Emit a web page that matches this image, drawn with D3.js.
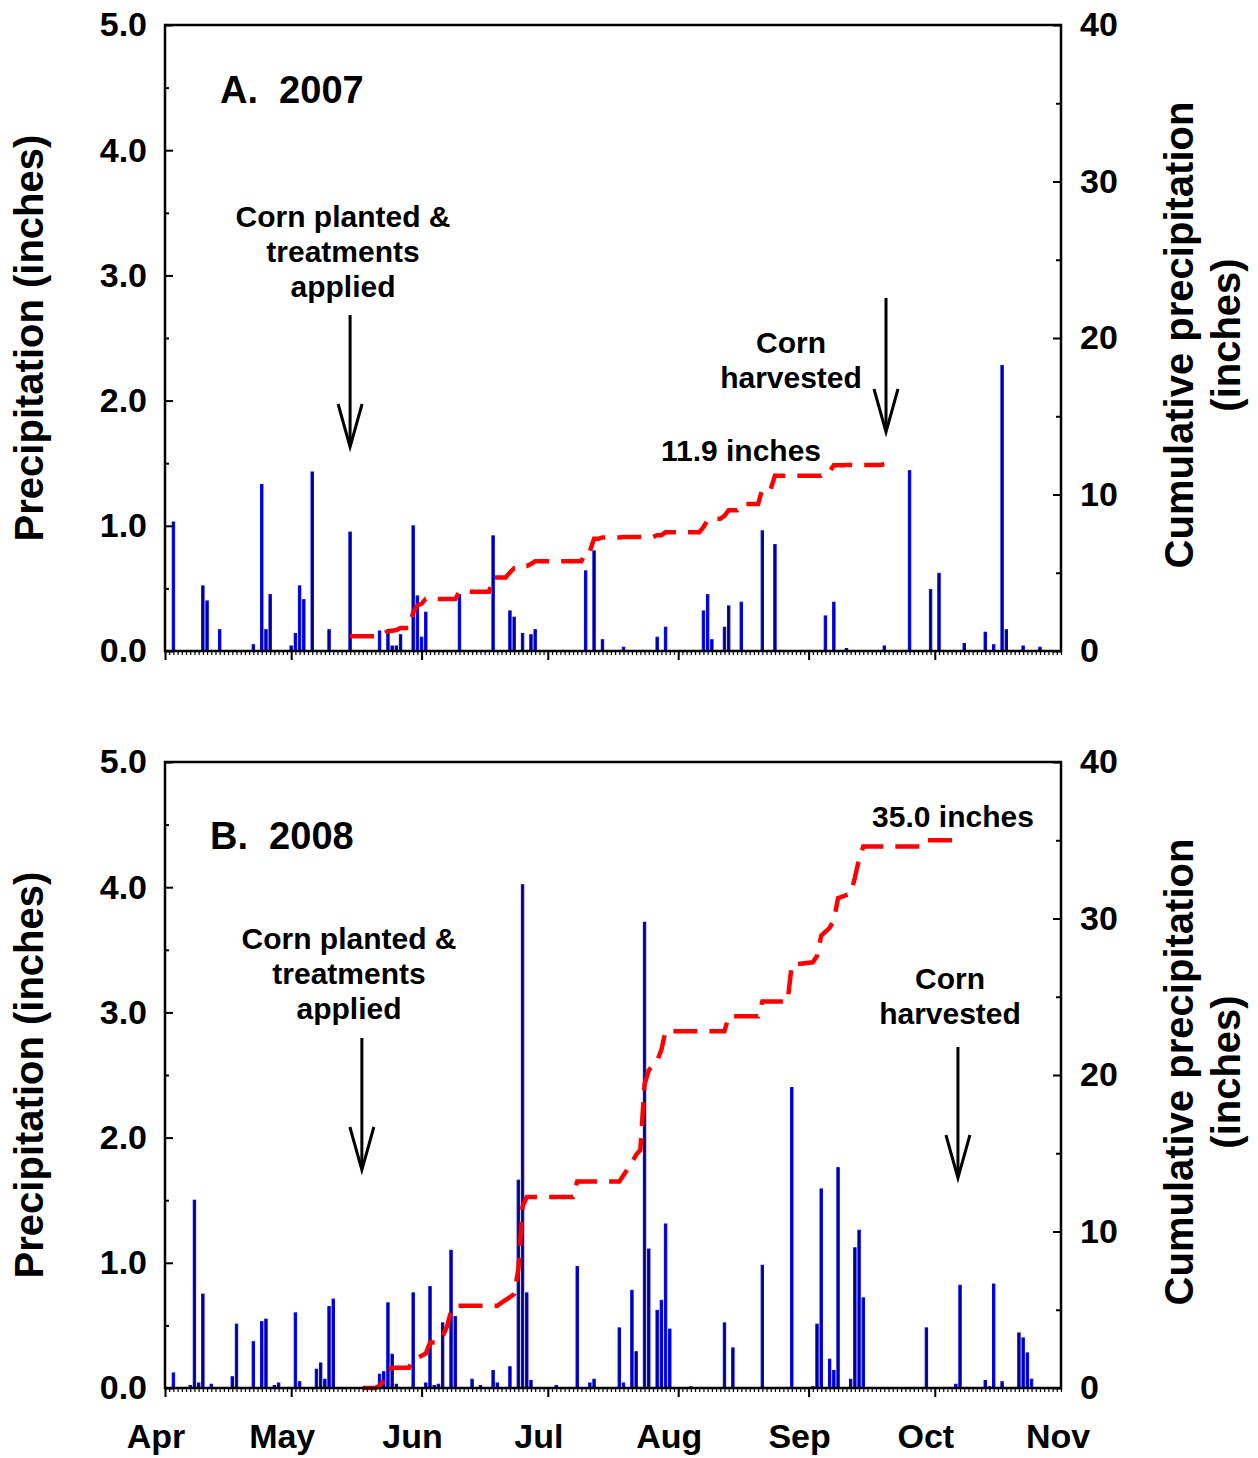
<!DOCTYPE html>
<html>
<head>
<meta charset="utf-8">
<script src="https://cdn.jsdelivr.net/npm/d3@7"></script>
<style>
  body { margin: 0; background: #fff; }
  text { font-family: "Liberation Sans", Arial, sans-serif; font-weight: bold; fill: #000; }
</style>
</head>
<body>
<svg id="chart" width="1258" height="1458"></svg>
<script>
// all days are counted from April 1 (0 = Apr 1)
const months = ['Apr', 'May', 'Jun', 'Jul', 'Aug', 'Sep', 'Oct', 'Nov'];
const precipTicks = [0, 1, 2, 3, 4, 5];
const precipMinor = [0.5, 1.5, 2.5, 3.5, 4.5];
const cumTicks = [0, 10, 20, 30, 40];
const cumMinor = [5, 15, 25, 35];

// daily precipitation, [day, inches]
const rain2007 = [
  [2, 1.03], [9, 0.52], [10, 0.40], [13, 0.17], [21, 0.05], [23, 1.33], [24, 0.17], [25, 0.45],
  [30, 0.04], [31, 0.14], [32, 0.52], [33, 0.41], [35, 1.43], [39, 0.17], [44, 0.95], [51, 0.16],
  [53, 0.15], [54, 0.04], [55, 0.04], [56, 0.13], [59, 1.00], [60, 0.44], [61, 0.11], [62, 0.31],
  [70, 0.45], [78, 0.92], [82, 0.32], [83, 0.27], [85, 0.14], [87, 0.13], [88, 0.17], [100, 0.64],
  [102, 0.80], [104, 0.09], [109, 0.03], [117, 0.11], [119, 0.19], [128, 0.32], [129, 0.45],
  [130, 0.09], [133, 0.19], [134, 0.36], [137, 0.39], [142, 0.96], [145, 0.85], [157, 0.28],
  [159, 0.39], [162, 0.02], [171, 0.04], [177, 1.44], [182, 0.49], [184, 0.62], [190, 0.06],
  [195, 0.15], [197, 0.05], [199, 2.28], [200, 0.17], [204, 0.04], [208, 0.03]
];

const rain2008 = [
  [2, 0.12], [6, 0.02], [7, 1.50], [8, 0.04], [9, 0.75], [11, 0.03], [16, 0.09], [17, 0.51],
  [21, 0.37], [23, 0.53], [24, 0.55], [26, 0.02], [27, 0.04], [31, 0.60], [32, 0.05], [36, 0.15],
  [37, 0.20], [38, 0.07], [39, 0.65], [40, 0.71], [51, 0.11], [52, 0.13], [53, 0.68], [54, 0.27],
  [55, 0.03], [59, 0.76], [62, 0.04], [63, 0.81], [64, 0.02], [65, 0.03], [66, 0.52], [68, 1.10],
  [69, 0.57], [73, 0.07], [75, 0.02], [78, 0.14], [79, 0.04], [82, 0.17], [84, 1.66], [85, 4.02],
  [86, 0.76], [87, 0.06], [93, 0.02], [98, 0.97], [101, 0.04], [102, 0.07], [108, 0.48], [109, 0.04],
  [111, 0.78], [112, 0.29], [114, 3.72], [115, 1.11], [117, 0.62], [118, 0.70], [119, 1.31],
  [120, 0.47], [125, 0.01], [133, 0.52], [135, 0.32], [142, 0.98], [149, 2.40], [154, 0.01],
  [155, 0.51], [156, 1.59], [158, 0.23], [159, 0.14], [160, 1.76], [163, 0.07], [164, 1.12],
  [165, 1.26], [166, 0.72], [181, 0.48], [188, 0.03], [189, 0.82], [195, 0.06], [196, 0.01],
  [197, 0.83], [199, 0.05], [203, 0.44], [204, 0.40], [205, 0.28], [206, 0.07]
];

// cumulative precipitation from planting to harvest, [day, inches]
const cum2007 = [
  [44, 0.95], [50, 0.95], [51, 1.11], [52, 1.11], [53, 1.26], [54, 1.30], [55, 1.34], [56, 1.47],
  [58, 1.47], [59, 2.47], [60, 2.91], [61, 3.02], [62, 3.33], [69, 3.33], [70, 3.78], [77, 3.78],
  [78, 4.70], [81, 4.70], [82, 5.02], [83, 5.29], [84, 5.29], [85, 5.43], [86, 5.43], [87, 5.56],
  [88, 5.73], [99, 5.73], [100, 6.37], [101, 6.37], [102, 7.17], [103, 7.17], [104, 7.26],
  [108, 7.26], [109, 7.29], [116, 7.29], [117, 7.40], [118, 7.40], [119, 7.59], [127, 7.59],
  [128, 7.91], [129, 8.36], [130, 8.45], [132, 8.45], [133, 8.64], [134, 9.00], [136, 9.00],
  [137, 9.39], [141, 9.39], [142, 10.35], [144, 10.35], [145, 11.20], [156, 11.20], [157, 11.48],
  [158, 11.48], [159, 11.87], [161, 11.87], [162, 11.89], [170, 11.89], [171, 11.93]
];

const cum2008 = [
  [47, 0], [50, 0], [51, 0.15], [52, 0.45], [53, 1.05], [54, 1.3], [58, 1.3], [59, 1.8], [62, 2.2],
  [63, 2.9], [65, 2.9], [66, 3.3], [67, 3.9], [68, 4.9], [69, 5.25], [79, 5.25], [80, 5.45],
  [82, 5.8], [83, 6.0], [84, 7.6], [85, 11.6], [86, 12.2], [97, 12.2], [98, 13.2], [108, 13.2],
  [109, 13.6], [111, 14.4], [112, 14.9], [113, 15.2], [114, 19.4], [115, 20.3], [117, 20.9],
  [118, 21.6], [119, 22.8], [133, 22.8], [134, 23.75], [141, 23.75], [142, 24.7], [148, 24.7],
  [149, 27.05], [154, 27.2], [155, 27.6], [156, 28.9], [158, 29.4], [159, 29.9], [160, 31.3],
  [163, 31.6], [164, 32.6], [165, 33.8], [166, 34.6], [180, 34.6], [181, 35.0], [188, 35.0]
];

const plantDay = [44, 46.8];
const harvestDay = [171.4, 188.5];
const totals = ['11.9 inches', '35.0 inches'];

const svg = d3.select('#chart');
svg.append('rect').attr('width', 1258).attr('height', 1458).attr('fill', '#fff');

const left = 165, right = 1061;

const panels = [
  { year: 2007, top: 25, bottom: 651, title: 'A.  2007', rain: rain2007, cum: cum2007,
    plant: plantDay[0], harvest: harvestDay[0], total: totals[0],
    titleXY: [220, 103], plantText: [343, 227], plantArrow: [315, 447],
    harvText: [791, 353], harvArrow: [298, 432], totalXY: [741, 461], monthLabels: false },
  { year: 2008, top: 762, bottom: 1388, title: 'B.  2008', rain: rain2008, cum: cum2008,
    plant: plantDay[1], harvest: harvestDay[1], total: totals[1],
    titleXY: [210, 849], plantText: [349, 949], plantArrow: [1038, 1170],
    harvText: [950, 989], harvArrow: [1047, 1178], totalXY: [953, 827], monthLabels: true }
];

const lineGap = 35;

function arrow(g, xPos, y0, y1) {
  g.append('line')
    .attr('x1', xPos).attr('x2', xPos)
    .attr('y1', y0).attr('y2', y1 - 2)
    .attr('stroke', '#000').attr('stroke-width', 3);
  g.append('path')
    .attr('d', d3.line()([[xPos - 12, y1 - 43], [xPos, y1], [xPos + 12, y1 - 43]]))
    .attr('fill', 'none').attr('stroke', '#000').attr('stroke-width', 3);
}

function drawPanel(p) {
  const start = new Date(p.year, 3, 1);
  const end = new Date(p.year, 9, 31);
  const x = d3.scaleTime().domain([start, end]).range([left, right]);
  const xDay = d => x(new Date(start.getTime() + d * 864e5));
  const y = d3.scaleLinear().domain([0, 5]).range([p.bottom, p.top]);
  const y2 = d3.scaleLinear().domain([0, 40]).range([p.bottom, p.top]);

  const g = svg.append('g');

  // bars
  g.append('g')
    .selectAll('rect')
    .data(p.rain)
    .enter().append('rect')
      .attr('x', d => xDay(d[0]) - 1.2)
      .attr('width', 2.4)
      .attr('y', d => y(d[1]))
      .attr('height', d => y(0) - y(d[1]))
      .attr('fill', '#000070')
      .attr('stroke', '#0000ff')
      .attr('stroke-width', 1);

  // cumulative line
  g.append('path')
    .datum(p.cum)
    .attr('d', d3.line().x(d => xDay(d[0])).y(d => y2(d[1])))
    .attr('fill', 'none')
    .attr('stroke', '#ff0000')
    .attr('stroke-width', 4.5)
    .attr('stroke-dasharray', '24,12');

  // ticks
  const tickAxis = (axis, tx, ty) => {
    const a = g.append('g').attr('transform', `translate(${tx},${ty})`).call(axis);
    a.select('.domain').remove();
    a.selectAll('line').attr('stroke', '#000').attr('stroke-width', 2);
    return a;
  };
  tickAxis(d3.axisRight(y).tickValues(precipTicks).tickSize(8).tickFormat(''), left, 0);
  tickAxis(d3.axisRight(y).tickValues(precipMinor).tickSize(4).tickFormat(''), left, 0);
  tickAxis(d3.axisLeft(y2).tickValues(cumTicks).tickSize(8).tickFormat(''), right, 0);
  tickAxis(d3.axisLeft(y2).tickValues(cumMinor).tickSize(5).tickFormat(''), right, 0);
  tickAxis(d3.axisBottom(x).ticks(d3.timeDay.every(1)).tickSize(4).tickFormat(''), 0, p.bottom)
    .selectAll('line').attr('stroke-width', 1.2);
  tickAxis(d3.axisBottom(x).ticks(d3.timeMonth.every(1)).tickSize(9).tickFormat(''), 0, p.bottom);

  // tick labels
  const lab = (axis, tx) => {
    const a = g.append('g').attr('transform', `translate(${tx},0)`).call(axis);
    a.select('.domain').remove();
    a.selectAll('text')
      .attr('font-size', 34)
      .attr('font-family', '"Liberation Sans", Arial, sans-serif')
      .attr('font-weight', 'bold')
      .attr('fill', '#000');
  };
  lab(d3.axisLeft(y).tickValues(precipTicks).tickSize(0).tickPadding(18).tickFormat(d3.format('.1f')), left);
  lab(d3.axisRight(y2).tickValues(cumTicks).tickSize(0).tickPadding(19).tickFormat(d3.format('d')), right);

  // frame
  g.append('rect')
    .attr('x', left).attr('y', p.top)
    .attr('width', right - left).attr('height', p.bottom - p.top)
    .attr('fill', 'none').attr('stroke', '#000').attr('stroke-width', 2.5);

  if (p.monthLabels) {
    g.append('g')
      .selectAll('text')
      .data(months)
      .enter().append('text')
        .attr('x', (d, i) => x(d3.min([new Date(p.year, 3 + i, 1), end])) - (i === 7 ? 3 : 9))
        .attr('y', 1448)
        .attr('text-anchor', 'middle')
        .attr('font-size', 34)
        .text(d => d);
  }

  // axis titles
  const midY = (p.top + p.bottom) / 2;
  g.append('text')
    .attr('transform', `translate(43,${midY}) rotate(-90)`)
    .attr('text-anchor', 'middle').attr('font-size', 40)
    .text('Precipitation (inches)');
  g.append('text')
    .attr('transform', `translate(1193,${midY - 3}) rotate(-90)`)
    .attr('text-anchor', 'middle').attr('font-size', 40)
    .text('Cumulative precipitation');
  g.append('text')
    .attr('transform', `translate(1240,${midY - 3}) rotate(-90)`)
    .attr('text-anchor', 'middle').attr('font-size', 40)
    .text('(inches)');

  // panel title
  g.append('text')
    .attr('x', p.titleXY[0]).attr('y', p.titleXY[1])
    .attr('font-size', 38)
    .style('white-space', 'pre')
    .text(p.title);

  // annotations
  ['Corn planted &', 'treatments', 'applied'].forEach((t, i) => {
    g.append('text')
      .attr('x', p.plantText[0]).attr('y', p.plantText[1] + i * lineGap)
      .attr('text-anchor', 'middle').attr('font-size', 30)
      .text(t);
  });
  ['Corn', 'harvested'].forEach((t, i) => {
    g.append('text')
      .attr('x', p.harvText[0]).attr('y', p.harvText[1] + i * lineGap)
      .attr('text-anchor', 'middle').attr('font-size', 30)
      .text(t);
  });
  g.append('text')
    .attr('x', p.totalXY[0]).attr('y', p.totalXY[1])
    .attr('text-anchor', 'middle').attr('font-size', 30)
    .text(p.total);

  arrow(g, xDay(p.plant), p.plantArrow[0], p.plantArrow[1]);
  arrow(g, xDay(p.harvest), p.harvArrow[0], p.harvArrow[1]);
}

panels.forEach(drawPanel);
</script>
</body>
</html>
